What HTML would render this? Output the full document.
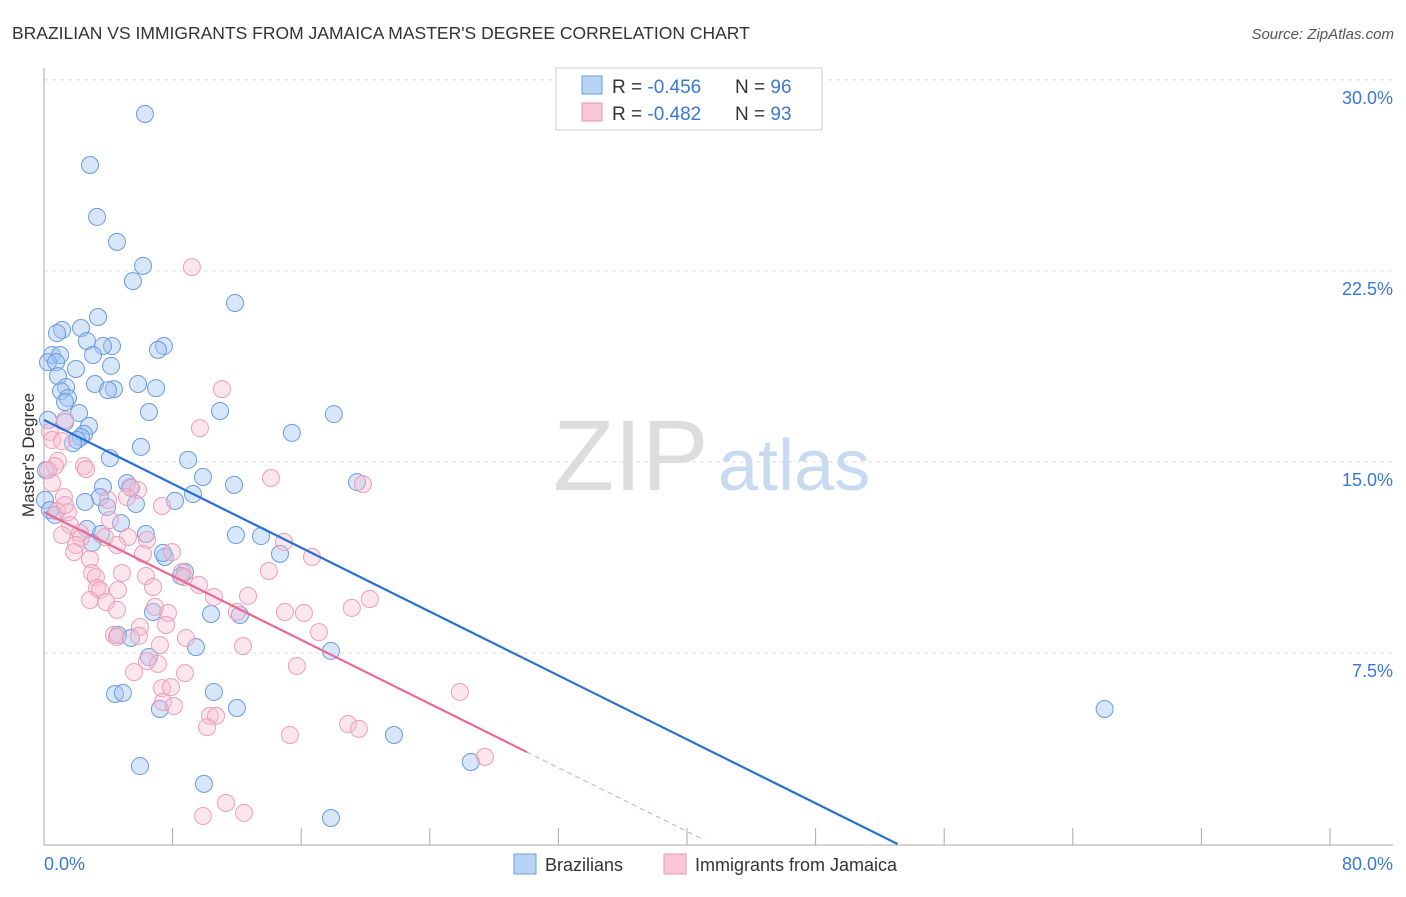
<!DOCTYPE html>
<html><head><meta charset="utf-8"><style>
body{margin:0;background:#fff;font-family:"Liberation Sans",sans-serif;}
svg text{font-family:"Liberation Sans",sans-serif;}
</style></head><body>
<svg id="chart" width="1406" height="892" xmlns="http://www.w3.org/2000/svg">
<text x="12" y="39" font-size="17.5" fill="#333">BRAZILIAN VS IMMIGRANTS FROM JAMAICA MASTER'S DEGREE CORRELATION CHART</text>
<text x="1394" y="39" font-size="15" fill="#555" font-style="italic" text-anchor="end">Source: ZipAtlas.com</text>
<text x="34" y="455" font-size="17" fill="#333" text-anchor="middle" transform="rotate(-90 34 455)">Master's Degree</text>
<g><text x="553" y="490" font-size="100" fill="#ddd" font-family="Liberation Serif">ZIP</text><text x="718" y="490" font-size="72" fill="#c8daf2">atlas</text></g>
<g id="grid"></g><g id="pts"></g><g id="trend"></g>
<g>
<rect x="556" y="68" width="266" height="62" fill="#fff" stroke="#ccc"/>
<rect x="582" y="76" width="20" height="18" fill="#b9d3f5" stroke="#6a9be0"/>
<rect x="582" y="103" width="20" height="18" fill="#f9c7d6" stroke="#e896b0"/>
<text x="612" y="93" font-size="19" fill="#333">R = <tspan fill="#3a78d4">-0.456</tspan></text>
<text x="735" y="93" font-size="19" fill="#333">N = <tspan fill="#3a78d4">96</tspan></text>
<text x="612" y="120" font-size="19" fill="#333">R = <tspan fill="#3a78d4">-0.482</tspan></text>
<text x="735" y="120" font-size="19" fill="#333">N = <tspan fill="#3a78d4">93</tspan></text>
</g>
<g>
<rect x="514" y="854" width="22" height="20" fill="#b9d3f5" stroke="#6a9be0"/>
<text x="545" y="871" font-size="18" fill="#333">Brazilians</text>
<rect x="664" y="854" width="22" height="20" fill="#f9c7d6" stroke="#e896b0"/>
<text x="695" y="871" font-size="18" fill="#333">Immigrants from Jamaica</text>
</g>
</svg>
<script>
const blueX=[6.28,2.86,3.30,4.54,6.16,5.53,11.88,3.36,2.30,1.12,0.81,2.67,4.23,3.67,7.46,7.09,3.05,0.50,1.00,0.25,0.75,1.99,4.17,0.87,3.17,1.37,5.85,6.97,4.35,3.98,1.06,1.49,1.31,6.53,10.95,18.03,2.18,1.31,2.80,2.49,2.30,2.05,1.80,15.42,6.03,4.10,8.96,9.89,11.82,19.47,5.16,3.67,5.41,3.48,9.27,8.15,2.55,5.72,3.92,4.79,6.34,2.67,3.54,11.94,13.50,2.99,7.52,7.40,14.68,8.77,8.52,10.39,12.19,6.78,4.60,5.41,9.45,6.53,17.85,4.42,4.91,10.57,12.00,7.21,21.77,65.98,5.97,9.95,26.55,17.85,0.06,0.37,0.25,0.12,0.68];
const blueY=[28.66,26.66,24.62,23.64,22.70,22.10,21.24,20.69,20.26,20.18,20.06,19.75,19.55,19.55,19.55,19.40,19.20,19.20,19.20,18.92,18.92,18.65,18.77,18.37,18.06,17.94,18.06,17.90,17.86,17.82,17.78,17.51,17.35,16.96,17.00,16.88,16.92,16.57,16.41,16.10,15.98,15.86,15.74,16.14,15.59,15.15,15.08,14.41,14.10,14.21,14.17,14.02,13.98,13.62,13.74,13.47,13.43,13.35,13.23,12.60,12.17,12.37,12.17,12.13,12.09,11.82,11.27,11.43,11.39,10.68,10.52,9.03,8.99,9.11,8.21,8.09,7.73,7.34,7.58,5.89,5.93,5.97,5.34,5.30,4.28,5.30,3.06,2.36,3.22,1.02,13.51,13.11,16.65,14.68,12.92];
const pinkX=[9.20,11.07,1.31,9.70,0.37,0.50,1.12,0.87,0.68,2.49,2.61,0.25,14.12,19.84,0.50,5.35,5.85,1.24,5.16,3.98,7.34,0.81,1.49,1.62,2.24,2.30,3.79,5.22,6.41,14.93,1.99,4.54,16.67,7.96,6.16,2.86,1.87,2.99,4.85,3.23,6.34,6.78,8.58,8.71,13.99,9.64,3.30,3.48,4.60,10.57,12.69,20.27,2.86,3.86,4.54,7.71,14.99,16.17,19.15,6.90,7.59,5.97,12.00,4.35,5.91,8.83,17.10,4.54,7.21,12.38,6.41,7.09,8.77,15.73,5.60,7.34,7.90,7.40,8.08,10.32,10.70,10.14,18.91,19.59,15.30,25.87,27.43,11.32,12.44,9.89,1.31,1.12,4.10];
const pinkY=[22.65,17.86,16.65,16.33,16.18,15.86,15.82,15.04,14.84,14.84,14.72,14.68,14.37,14.13,14.17,14.02,13.90,13.62,13.62,13.51,13.27,13.07,13.03,12.52,12.21,12.01,12.05,12.05,11.94,11.86,11.74,11.74,11.27,11.46,11.39,11.19,11.46,10.64,10.64,10.48,10.52,10.09,10.68,10.48,10.72,10.17,10.05,9.97,9.97,9.70,9.74,9.62,9.58,9.50,9.19,9.07,9.11,9.07,9.27,9.31,8.60,8.52,9.11,8.21,8.17,8.09,8.32,8.13,7.81,7.77,7.18,7.07,6.71,6.99,6.75,6.12,6.16,5.58,5.42,5.03,5.03,4.59,4.71,4.52,4.28,5.97,3.42,1.61,1.22,1.10,13.31,12.13,12.72];
const yTicks=[7.5,15,22.5,30];
const yTickLabels=["7.5%","15.0%","22.5%","30.0%"];
const xTicks=[0,8,16,24,32,40,48,56,64,72,80];
const blueTrend=[[0,16.65],[53.1,0]];
const pinkTrend=[[0,13.03],[30.04,3.61]];
const pinkTrendExt=[[30.04,3.61],[41.1,0.15]];
const NS="http://www.w3.org/2000/svg";
const sx=v=>44+v*16.075, sy=v=>844-v*25.47;
function mk(t,a,p){const e=document.createElementNS(NS,t);for(const k in a)e.setAttribute(k,a[k]);p.appendChild(e);return e;}
const grid=document.getElementById('grid');
yTicks.forEach((v,i)=>{
 const l=mk('line',{x1:44,x2:1393,y1:sy(v),y2:sy(v),stroke:'#ddd','stroke-dasharray':'4,4'},grid);
 
 
 const t=mk('text',{x:1393,y:sy(v)+24,'font-size':18,fill:'#3a78d4','text-anchor':'end'},grid);
 t.textContent=yTickLabels[i];
 
 
});
let ax=mk('line',{x1:44,x2:44,y1:68,y2:845,stroke:'#aaa'},grid);


ax=mk('line',{x1:44,x2:1393,y1:845,y2:845,stroke:'#aaa'},grid);


xTicks.forEach(v=>{
 const l=mk('line',{x1:sx(v),x2:sx(v),y1:828,y2:845,stroke:'#aaa'},grid);
 
 
});
let t=mk('text',{x:44,y:870,'font-size':18,fill:'#3a78d4'},grid);t.textContent='0.0%';


t=mk('text',{x:1393,y:870,'font-size':18,fill:'#3a78d4','text-anchor':'end'},grid);t.textContent='80.0%';


const pts=document.getElementById('pts');
blueX.forEach((x,i)=>{
 const c=mk('circle',{cx:sx(x),cy:sy(blueY[i]),r:8.5,fill:'rgba(160,196,240,0.42)',stroke:'#6b9be0','stroke-width':1},pts);
 
 
});
pinkX.forEach((x,i)=>{
 const c=mk('circle',{cx:sx(x),cy:sy(pinkY[i]),r:8.5,fill:'rgba(248,190,210,0.38)',stroke:'#ee9db7','stroke-width':1},pts);
 
 
});
const tr=document.getElementById('trend');
let l=mk('line',{x1:sx(blueTrend[0][0]),y1:sy(blueTrend[0][1]),x2:sx(blueTrend[1][0]),y2:sy(blueTrend[1][1]),stroke:'#2a6fd6','stroke-width':2.2},tr);


l=mk('line',{x1:sx(pinkTrend[0][0]),y1:sy(pinkTrend[0][1]),x2:sx(pinkTrend[1][0]),y2:sy(pinkTrend[1][1]),stroke:'#e86a92','stroke-width':2.2},tr);


l=mk('line',{x1:sx(pinkTrendExt[0][0]),y1:sy(pinkTrendExt[0][1]),x2:sx(pinkTrendExt[1][0]),y2:sy(pinkTrendExt[1][1]),stroke:'#e9a0b8','stroke-width':1,'stroke-dasharray':'5,4'},tr);


</script>
</body></html>
